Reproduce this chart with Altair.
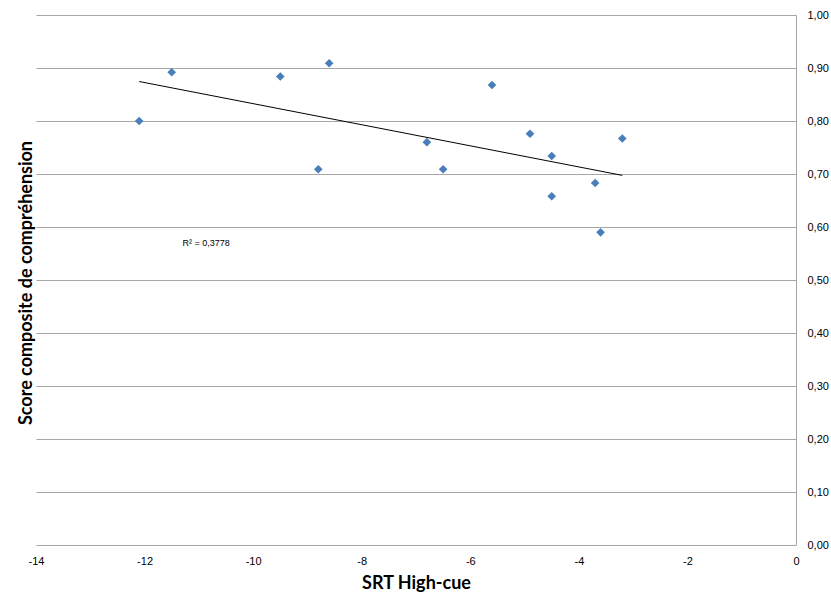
import altair as alt
import pandas as pd

# ---- data ----
srt_high_cue = [-12.1, -11.5, -9.5, -8.8, -8.6, -6.8, -6.5, -5.6, -4.9, -4.5, -4.5, -3.7, -3.6, -3.2]
score_comprehension = [0.800, 0.892, 0.884, 0.709, 0.909, 0.760, 0.709, 0.868, 0.776, 0.734, 0.658, 0.683, 0.590, 0.767]

x_ticks = [-14, -12, -10, -8, -6, -4, -2, 0]
y_ticks = [0.0, 0.1, 0.2, 0.3, 0.4, 0.5, 0.6, 0.7, 0.8, 0.9, 1.0]

r2_label = ["R² = 0,3778"]
r2_x = [-11.3]
r2_y = [0.57]

x_title = "SRT High-cue"
y_title = ["Score  composite de compréhension"]

points_df = pd.DataFrame({"srt": srt_high_cue, "score": score_comprehension})
r2_df = pd.DataFrame({"srt": r2_x, "score": r2_y, "label": r2_label})
ytitle_df = pd.DataFrame({"t": y_title})

GRID = "#a6a6a6"
LABEL_FONT = "Liberation Sans"
TITLE_FONT = "Lato"

x_scale = alt.Scale(domain=[-14, 0], nice=False, zero=False)
y_scale = alt.Scale(domain=[0, 1], nice=False, zero=False)

x_enc = alt.X(
    "srt:Q",
    scale=x_scale,
    axis=alt.Axis(
        values=x_ticks,
        title=x_title,
        grid=False,
        domain=False,
        ticks=False,
        labelFlush=False,
        labelPadding=10,
        labelFont=LABEL_FONT,
        labelFontSize=11,
        labelColor="#000000",
        labelExpr="'' + datum.value",
        titleFont=TITLE_FONT,
        titleFontSize=18,
        titleFontWeight="bold",
        titleColor="#000000",
        titlePadding=8,
    ),
)

y_enc = alt.Y(
    "score:Q",
    scale=y_scale,
    axis=alt.Axis(
        orient="right",
        values=y_ticks,
        title=None,
        grid=True,
        gridColor=GRID,
        gridWidth=1,
        domain=True,
        domainColor=GRID,
        ticks=False,
        labelFlush=False,
        labelPadding=11,
        labelFont=LABEL_FONT,
        labelFontSize=11,
        labelColor="#000000",
        labelExpr="replace(format(datum.value, '.2f'), '.', ',')",
    ),
)

points = (
    alt.Chart(points_df)
    .mark_point(shape="diamond", filled=True, size=75, color="#4A7EBB", opacity=1)
    .encode(x=x_enc, y=y_enc)
)

trend = (
    alt.Chart(points_df)
    .transform_regression("srt", "score")
    .mark_line(color="#000000", strokeWidth=1)
    .encode(x=alt.X("srt:Q", scale=x_scale), y=alt.Y("score:Q", scale=y_scale))
)

r2_text = (
    alt.Chart(r2_df)
    .mark_text(align="left", baseline="middle", fontSize=9, font=LABEL_FONT, color="#000000")
    .encode(x=alt.X("srt:Q", scale=x_scale), y=alt.Y("score:Q", scale=y_scale), text="label:N")
)

y_title_text = (
    alt.Chart(ytitle_df)
    .mark_text(angle=270, fontSize=18, font=TITLE_FONT, fontWeight="bold", color="#000000",
               align="center", baseline="middle")
    .encode(x=alt.value(-9), y=alt.value(268), text="t:N")
)

chart = (
    alt.layer(points, trend, r2_text, y_title_text)
    .properties(
        width=760,
        height=530,
        autosize=alt.AutoSizeParams(type="none"),
        padding={"left": 36, "top": 15, "right": 35, "bottom": 53},
    )
    .configure_view(stroke=None)
)

chart.save("out.html", embed_options={"renderer": "svg", "actions": False})
